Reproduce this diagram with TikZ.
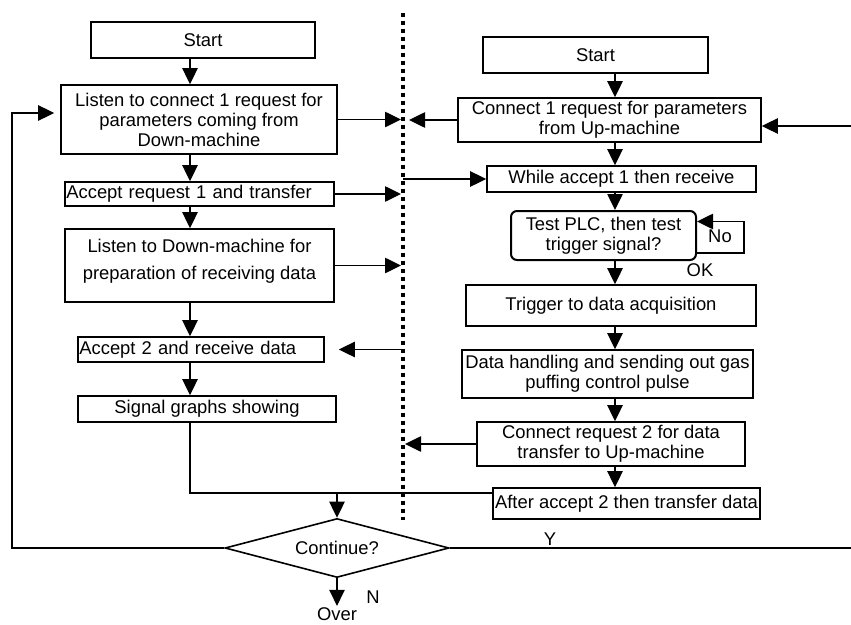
\documentclass[tikz,border=0pt]{standalone}
\usepackage{fontspec}
\setmainfont{Liberation Sans}
\usetikzlibrary{shapes.geometric, arrows.meta, positioning, calc}
\newcommand{\dgfont}{\fontsize{13.8}{15}\selectfont}
\tikzset{
    proc/.style={rectangle, draw, line width=1.2pt, inner sep=1pt, align=center, font=\dgfont},
    leftproc/.style={proc, align=left},
    testbox/.style={proc, rounded corners=4.5pt, line width=1.5pt},
    decide/.style={diamond, draw, line width=1.2pt, shape aspect=3.8, inner sep=0pt, font=\dgfont},
    lbl/.style={inner sep=1pt, font=\dgfont},
    line/.style={line width=1.1pt},
    arr/.style={line width=1.1pt, -{Triangle[length=12pt, width=11.5pt]}},
    divider/.style={line width=2.8pt, dash pattern=on 2.8pt off 3.2pt}
}
\begin{document}
\begin{tikzpicture}[x=0.75pt, y=-0.75pt]
    \useasboundingbox (0,0) rectangle (851,625);

    % Guides
    \coordinate (colL) at (190,0);
    \coordinate (colR) at (615,0);
    \coordinate (divTop) at (403,13);
    \coordinate (divBot) at (403,520);
    \draw[divider] (divTop) -- (divBot);

    % Down-machine side
    \node[proc, minimum width=168pt, minimum height=27pt] (lstart) at (203,40) {Start};
    \node[proc, minimum width=207pt, minimum height=51.75pt] (listen1) at (199,119.5)
        {Listen to connect 1 request for\\parameters coming from\\Down-machine};
    \node[leftproc, text width=199.75pt, minimum height=18pt] (accept1) at (199.5,194)
        {Accept request 1 and transfer};
    \node[proc, minimum width=201.75pt, minimum height=54.75pt] (listen2) at (199.5,265.5)
        {Listen to Down-machine for\\[5pt]preparation of receiving data\\[-6pt]};
    \node[leftproc, text width=182.5pt, minimum height=18.75pt] (accept2) at (201,349.5)
        {Accept 2 and receive data};
    \node[proc, minimum width=193.5pt, minimum height=19.5pt] (graphs) at (207,409)
        {Signal graphs showing};

    % Up-machine side
    \node[proc, minimum width=168.75pt, minimum height=27pt] (rstart) at (595.5,55) {Start};
    \node[proc, minimum width=227.25pt, minimum height=33pt] (conn1) at (609.5,120)
        {Connect 1 request for parameters\\from Up-machine};
    \node[proc, minimum width=201.75pt, minimum height=19.5pt] (while1) at (621.5,179)
        {While accept 1 then receive};
    \node[testbox, minimum width=138.75pt, minimum height=36.75pt] (test) at (603.5,235.5)
        {Test PLC, then test\\trigger signal?};
    \node[proc, minimum width=217.5pt, minimum height=30.75pt] (trig) at (611,305.5)
        {Trigger to data acquisition};
    \node[proc, minimum width=218.25pt, minimum height=36pt] (handle) at (607.5,374)
        {Data handling and sending out gas\\puffing control pulse};
    \node[proc, minimum width=201pt, minimum height=33pt] (conn2) at (611,444)
        {Connect request 2 for data\\transfer to Up-machine};
    \node[proc, minimum width=200.25pt, minimum height=23.25pt] (after2) at (626.5,503.5)
        {After accept 2 then transfer data};

    % Decision
    \node[decide, minimum width=168pt, minimum height=44.25pt] (cont) at (337,548) {Continue?};
    \node[lbl] (over) at (337,614) {Over};

    % Labels
    \node[lbl] (noLbl) at (720,236) {No};
    \node[lbl] (okLbl) at (700,270) {OK};
    \node[lbl] (yLbl) at (550,539) {Y};
    \node[lbl] (nLbl) at (373,597) {N};

    % Down-machine flow
    \draw[arr] (lstart.south -| colL) -- (listen1.north -| colL);
    \draw[arr] (listen1.south -| colL) -- (accept1.north -| colL);
    \draw[arr] (accept1.south -| colL) -- (listen2.north -| colL);
    \draw[arr] (listen2.south -| colL) -- (accept2.north -| colL);
    \draw[arr] (accept2.south -| colL) -- (graphs.north -| colL);
    \coordinate (join) at (337,493);
    \draw[line] (graphs.south -| colL) |- (join) -- (after2.west |- join);
    \draw[arr] (join) -- (cont.north);
    \draw[arr] (cont.south) -- (over.north);

    % Up-machine flow
    \draw[arr] (rstart.south -| colR) -- (conn1.north -| colR);
    \draw[arr] (conn1.south -| colR) -- (while1.north -| colR);
    \draw[arr] (while1.south -| colR) -- (test.north -| colR);
    \draw[arr] (test.south -| colR) -- (trig.north -| colR);
    \draw[arr] (trig.south -| colR) -- (handle.north -| colR);
    \draw[arr] (handle.south -| colR) -- (conn2.north -| colR);
    \draw[arr] (conn2.south -| colR) -- (after2.north -| colR);
    \draw[arr] ([yshift=-13pt]test.east) -- ++(47,0) |- ([yshift=10.5pt]test.east);

    % Loops back
    \coordinate (loopL) at (12,113);
    \draw[arr, shorten >=4.5pt] (cont.west) -| (loopL) -- (listen1.west |- loopL);
    \coordinate (loopR) at (860,548);
    \draw[arr] (cont.east) -- (loopR) |- ($(conn1.east)+(0,6)$);

    % Between the machines
    \draw[arr, shorten >=1.5pt] (listen1.east) -- (listen1.east -| divTop);
    \draw[arr, shorten >=4.5pt] (conn1.west) -- (conn1.west -| divTop);
    \draw[arr, shorten >=1.5pt] (accept1.east) -- (accept1.east -| divTop);
    \draw[arr] (while1.west -| divTop) -- (while1.west);
    \draw[arr, shorten >=1.5pt] (listen2.east) -- (listen2.east -| divTop);
    \draw[arr, shorten >=10.5pt] (accept2.east -| divTop) -- (accept2.east);
    \draw[arr, shorten >=1.5pt] (conn2.west) -- (conn2.west -| divTop);
\end{tikzpicture}
\end{document}
